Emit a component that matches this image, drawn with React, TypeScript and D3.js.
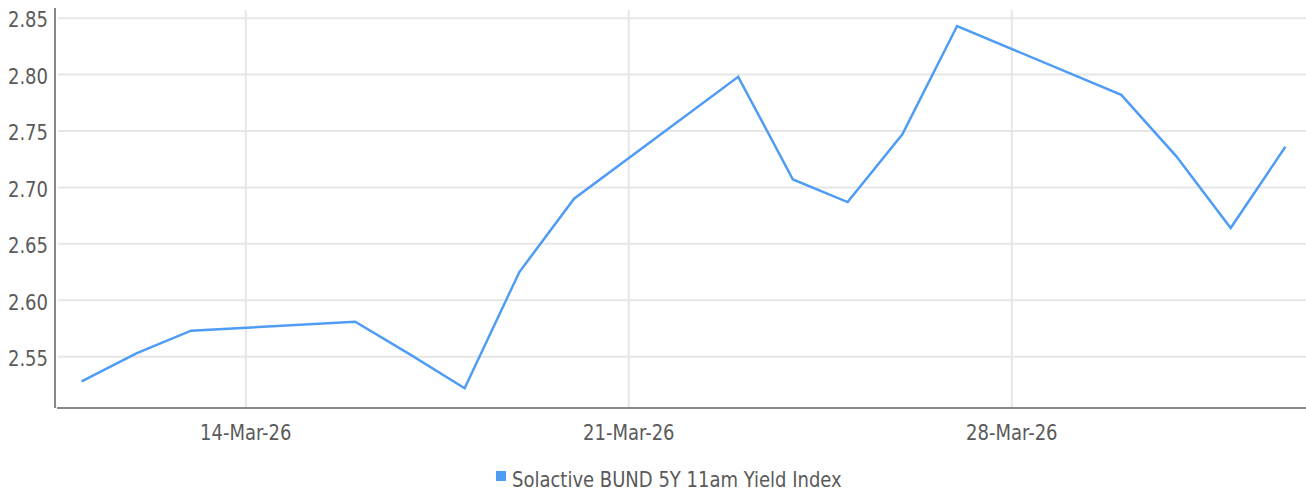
import React, { useEffect, useRef } from 'react';
import * as d3 from 'd3';

// Daily fixings
const dates = [
  '2026-03-11', '2026-03-12', '2026-03-13', '2026-03-16', '2026-03-17', '2026-03-18',
  '2026-03-19', '2026-03-20', '2026-03-23', '2026-03-24', '2026-03-25', '2026-03-26',
  '2026-03-27', '2026-03-30', '2026-03-31', '2026-04-01', '2026-04-02',
];
const yields = [
  2.528, 2.553, 2.573, 2.581, 2.552, 2.522,
  2.625, 2.690, 2.798, 2.707, 2.687, 2.747,
  2.843, 2.782, 2.728, 2.664, 2.736,
];
const xTicks = ['2026-03-14', '2026-03-21', '2026-03-28'];
const yTicks = [2.55, 2.6, 2.65, 2.7, 2.75, 2.8, 2.85];
const seriesName = 'Solactive BUND 5Y 11am Yield Index';

const WIDTH = 1306;
const HEIGHT = 493;
const FONT = '"DejaVu Sans Condensed", "Liberation Sans Narrow", sans-serif';
const SQUEEZE = 0.91; // reference uses a narrower face than anything installed
const TEXT_COLOR = '#5a5a5a';
const LINE_COLOR = '#4f9cf5';

// eslint-disable-next-line @typescript-eslint/no-explicit-any
type Pt = any;

const App: React.FC = () => {
  const svgRef = useRef<SVGSVGElement>(null);

  useEffect(() => {
    if (!svgRef.current) return;
    const svg = d3.select(svgRef.current);
    svg.selectAll('*').remove();

    const parse = d3.utcParse('%Y-%m-%d');
    const data = dates.map((d, i) => ({ date: parse(d) as Date, value: yields[i] }));

    const left = 55;
    const right = WIDTH;
    const top = 8;
    const bottom = 408;

    const x = d3
      .scaleUtc()
      .domain([parse('2026-03-09') as Date, parse('2026-04-03') as Date])
      .range([-27.8, 1340.1]);
    const y = d3.scaleLinear().domain([2.5045, 2.859]).range([bottom, top]);

    // horizontal grid
    svg
      .append('g')
      .selectAll('line')
      .data(yTicks)
      .join('line')
      .attr('x1', left + 3)
      .attr('x2', right)
      .attr('y1', d => y(d))
      .attr('y2', d => y(d))
      .attr('stroke', '#e6e6e6')
      .attr('stroke-width', 2);

    // vertical grid
    const tickDates = xTicks.map(d => parse(d) as Date);
    svg
      .append('g')
      .selectAll('line')
      .data(tickDates)
      .join('line')
      .attr('x1', d => x(d))
      .attr('x2', d => x(d))
      .attr('y1', top + 2)
      .attr('y2', bottom)
      .attr('stroke', '#e6e6e6')
      .attr('stroke-width', 2);

    // axes lines
    svg
      .append('line')
      .attr('x1', left)
      .attr('x2', left)
      .attr('y1', top)
      .attr('y2', bottom)
      .attr('stroke', '#888')
      .attr('stroke-width', 2);
    svg
      .append('line')
      .attr('x1', left + 2)
      .attr('x2', right)
      .attr('y1', bottom)
      .attr('y2', bottom)
      .attr('stroke', '#888')
      .attr('stroke-width', 2);

    // y tick labels
    svg
      .append('g')
      .selectAll('text')
      .data(yTicks)
      .join('text')
      .attr('transform', d => `translate(48,${y(d) + 3}) scale(${SQUEEZE},1)`)
      .attr('text-anchor', 'end')
      .attr('dominant-baseline', 'middle')
      .attr('fill', TEXT_COLOR)
      .style('font', `22px ${FONT}`)
      .text(d => d3.format('.2f')(d));

    // x tick labels
    const fmt = d3.utcFormat('%d-%b-%y');
    svg
      .append('g')
      .selectAll('text')
      .data(tickDates)
      .join('text')
      .attr('transform', d => `translate(${x(d)},440) scale(${SQUEEZE},1)`)
      .attr('text-anchor', 'middle')
      .attr('fill', TEXT_COLOR)
      .style('font', `22px ${FONT}`)
      .text(d => fmt(d));

    // series line
    const line = d3
      .line<Pt>()
      .x(d => x(d.date))
      .y(d => y(d.value));
    svg
      .append('path')
      .datum(data)
      .attr('fill', 'none')
      .attr('stroke', LINE_COLOR)
      .attr('stroke-width', 2.5)
      .attr('stroke-linejoin', 'miter')
      .attr('d', line);

    // legend
    const legend = svg.append('g').attr('transform', 'translate(496,471)');
    legend
      .append('rect')
      .attr('width', 10)
      .attr('height', 10)
      .attr('fill', LINE_COLOR);
    legend
      .append('text')
      .attr('transform', `translate(16,16) scale(${SQUEEZE},1)`)
      .attr('fill', TEXT_COLOR)
      .style('font', `22px ${FONT}`)
      .text(seriesName);
  }, []);

  return (
    <div style={{ position: 'absolute', left: 0, top: 0 }}>
      <svg ref={svgRef} width={WIDTH} height={HEIGHT} style={{ display: 'block', background: '#fff' }} />
    </div>
  );
};

export default App;
